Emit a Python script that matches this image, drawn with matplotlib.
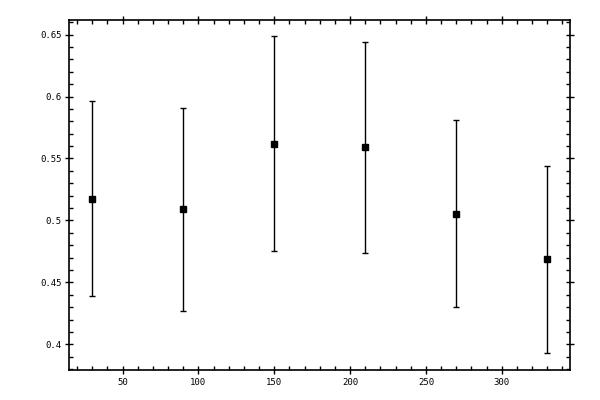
import matplotlib
matplotlib.use("Agg")
import matplotlib.pyplot as plt
from matplotlib.ticker import MultipleLocator, FormatStrFormatter, FuncFormatter

x_vals = [30, 90, 150, 210, 270, 330]
y_vals = [0.5177, 0.5089, 0.5621, 0.5589, 0.5056, 0.4685]
y_err = [0.0785, 0.0821, 0.0871, 0.0851, 0.0755, 0.0757]

fig = plt.figure(figsize=(6, 4), dpi=100)
ax = fig.add_axes([0.1158, 0.075, 0.8342, 0.876])

ax.errorbar(x_vals, y_vals, yerr=y_err, fmt="s", color="black",
            markersize=5, elinewidth=1, capsize=2, capthick=1)

ax.set_xlim(15, 345)
ax.set_ylim(0.3793, 0.6621)

ax.xaxis.set_major_locator(MultipleLocator(50))
ax.xaxis.set_minor_locator(MultipleLocator(10))
ax.yaxis.set_major_locator(MultipleLocator(0.05))
ax.yaxis.set_minor_locator(MultipleLocator(0.01))
ax.yaxis.set_major_formatter(FuncFormatter(lambda v, p: "%g" % round(v, 4)))
ax.xaxis.set_major_formatter(FormatStrFormatter("%d"))

ax.tick_params(which="major", direction="inout", length=6, width=1,
               top=True, right=True, labelsize=6.5, pad=2.5)
ax.tick_params(which="minor", direction="in", length=3, width=1,
               top=True, right=True)
for lbl in ax.get_xticklabels() + ax.get_yticklabels():
    lbl.set_family("DejaVu Sans Mono")
for sp in ax.spines.values():
    sp.set_linewidth(1.2)

fig.savefig("out.png", dpi=100)
